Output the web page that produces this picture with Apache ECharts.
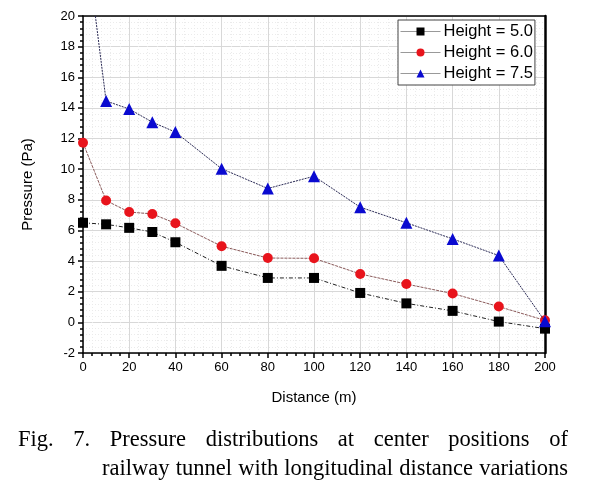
<!DOCTYPE html>
<html>
<head>
<meta charset="utf-8">
<script src="https://cdn.jsdelivr.net/npm/echarts@6/dist/echarts.min.js"></script>
<style>
html,body{margin:0;padding:0;background:#fff;}
#wrap{position:relative;width:590px;height:487px;overflow:hidden;}
#chart{position:absolute;left:0;top:0;width:590px;height:487px;}
.cap{position:absolute;font-family:"Liberation Serif","Times New Roman",serif;font-size:22.5px;color:#000;text-align:justify;text-align-last:justify;line-height:28px;}
</style>
</head>
<body>
<div id="wrap">
<div id="chart"></div>
<div class="cap" id="cap1" style="left:18px;top:425px;width:550px;">Fig. 7. Pressure distributions at center positions of</div>
<div class="cap" id="cap2" style="left:102px;top:454px;width:466px;">railway tunnel with longitudinal distance variations</div>
</div>
<script>
var distances = [0, 10, 20, 30, 40, 60, 80, 100, 120, 140, 160, 180, 200];
var height50 = [6.5, 6.4, 6.17, 5.9, 5.23, 3.69, 2.9, 2.9, 1.92, 1.24, 0.75, 0.05, -0.41];
var height60 = [11.72, 7.95, 7.2, 7.08, 6.47, 4.97, 4.2, 4.18, 3.16, 2.5, 1.88, 1.03, 0.13];
var height75 = [26.4, 14.45, 13.93, 13.07, 12.42, 10.03, 8.74, 9.54, 7.52, 6.5, 5.45, 4.36, 0.07];
var seriesNames = ['Height = 5.0', 'Height = 6.0', 'Height = 7.5'];

function pairs(vals) { return distances.map(function (d, i) { return [d, vals[i]]; }); }

var chart = echarts.init(document.getElementById('chart'), null, { renderer: 'canvas' });
var font = 'Liberation Sans, Arial, sans-serif';
chart.setOption({
  animation: false,
  backgroundColor: '#fff',
  grid: { left: 83, right: 45, top: 16, bottom: 134, show: false },
  legend: {
    orient: 'vertical', left: 398, top: 20,
    backgroundColor: '#fff', borderColor: '#444', borderWidth: 1,
    padding: [3, 2, 3, 2], itemGap: 4, itemWidth: 40, itemHeight: 10,
    textStyle: { fontFamily: font, fontSize: 16.5, color: '#000', padding: [0, 0, 0, -2] },
    lineStyle: { color: '#999', width: 1, type: 'solid' },
    data: seriesNames
  },
  xAxis: [{
    type: 'value', min: 0, max: 200, interval: 20,
    name: 'Distance (m)', nameLocation: 'middle', nameGap: 37,
    nameTextStyle: { fontFamily: font, fontSize: 15, color: '#000' },
    axisLine: { show: true, onZero: false, lineStyle: { color: '#000', width: 1.5 } },
    axisTick: { show: true, inside: false, length: 5, lineStyle: { color: '#000', width: 1.5 } },
    minorTick: { show: true, splitNumber: 5, length: 3, lineStyle: { color: '#000', width: 1.5 } },
    axisLabel: { fontFamily: font, fontSize: 13, color: '#000', margin: 8 },
    splitLine: { show: true, lineStyle: { color: '#d8d8d8', width: 1 } },
    minorSplitLine: { show: true, lineStyle: { color: '#ebebeb', width: 1, type: [1, 2] } }
  }, {
    type: 'value', min: 0, max: 200, position: 'top',
    axisLine: { show: true, onZero: false, lineStyle: { color: '#000', width: 1.5 } },
    axisTick: { show: false }, axisLabel: { show: false }, splitLine: { show: false }
  }],
  yAxis: [{
    type: 'value', min: -2, max: 20, interval: 2,
    name: 'Pressure (Pa)', nameLocation: 'middle', nameGap: 48,
    nameTextStyle: { fontFamily: font, fontSize: 15, color: '#000' },
    axisLine: { show: true, onZero: false, lineStyle: { color: '#000', width: 1.5 } },
    axisTick: { show: true, inside: false, length: 5, lineStyle: { color: '#000', width: 1.5 } },
    minorTick: { show: true, splitNumber: 5, length: 3, lineStyle: { color: '#000', width: 1.5 } },
    axisLabel: { fontFamily: font, fontSize: 13, color: '#000', margin: 8 },
    splitLine: { show: true, lineStyle: { color: '#d8d8d8', width: 1 } },
    minorSplitLine: { show: true, lineStyle: { color: '#ebebeb', width: 1, type: [1, 2] } }
  }, {
    type: 'value', min: -2, max: 20, position: 'right',
    axisLine: { show: true, onZero: false, lineStyle: { color: '#000', width: 2.5 } },
    axisTick: { show: false }, axisLabel: { show: false }, splitLine: { show: false }
  }],
  series: [{
    name: seriesNames[0], type: 'line', data: pairs(height50), clip: true,
    symbol: 'rect', symbolSize: 10,
    itemStyle: { color: '#000' },
    lineStyle: { color: '#222', width: 1, type: [4, 2, 1, 2] }, z: 3
  }, {
    name: seriesNames[1], type: 'line', data: pairs(height60), clip: true,
    symbol: 'circle', symbolSize: 10,
    itemStyle: { color: '#e8141c' },
    lineStyle: { color: '#8a5a5a', width: 1, type: [3, 1] }, z: 4
  }, {
    name: seriesNames[2], type: 'line', data: pairs(height75), clip: true,
    symbol: 'triangle', symbolSize: 12,
    itemStyle: { color: '#0a0ad0' },
    lineStyle: { color: '#2a2a55', width: 1, type: [2, 1] }, z: 5
  }]
});
</script>
</body>
</html>
